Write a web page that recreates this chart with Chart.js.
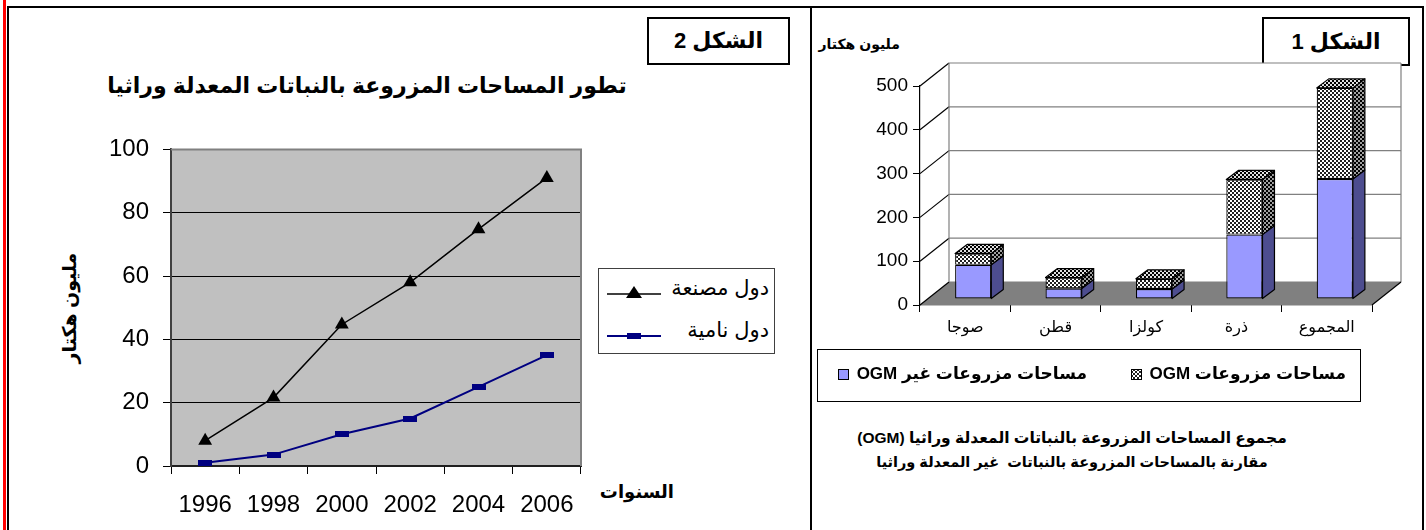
<!DOCTYPE html>
<html><head><meta charset="utf-8">
<script src="https://cdn.jsdelivr.net/npm/chart.js@4.4.0/dist/chart.umd.min.js"></script>
<style>
html,body{margin:0;padding:0;background:#fff;}
body{width:1426px;height:530px;position:relative;overflow:hidden;font-family:'Liberation Sans','DejaVu Sans',sans-serif;color:#000;}
.abs{position:absolute;}
.ar{direction:rtl;white-space:nowrap;}
.fig{position:absolute;box-sizing:border-box;border:2px solid #000;background:#fff;font-weight:bold;font-size:22px;text-align:center;direction:rtl;white-space:nowrap;}
canvas{display:block;}
</style></head><body>
<!-- frame -->
<div class="abs" style="left:3px;top:0;width:3px;height:530px;background:#f00"></div>
<div class="abs" style="left:7px;top:6px;width:2px;height:524px;background:#000"></div>
<div class="abs" style="left:7px;top:6px;width:1417px;height:2px;background:#000"></div>
<div class="abs" style="left:1422px;top:6px;width:2px;height:524px;background:#000"></div>
<div class="abs" style="left:810px;top:6px;width:2px;height:524px;background:#000"></div>

<!-- left panel -->
<div class="fig" style="left:647px;top:17px;width:143px;height:48px;line-height:44px;">الشكل 2</div>
<div class="abs ar" style="left:90px;top:73px;width:554px;text-align:center;font-weight:bold;font-size:22px;">تطور المساحات المزروعة بالنباتات المعدلة وراثيا</div>
<div class="abs ar" style="left:10px;top:296px;width:120px;text-align:center;font-weight:bold;font-size:19px;transform:rotate(-90deg);transform-origin:60px 12px;">مليون هكتار</div>
<div class="abs ar" style="left:590px;top:481px;width:84px;text-align:right;font-weight:bold;font-size:18px;">السنوات</div>
<div class="abs" id="leg2" style="left:598px;top:268px;width:177px;height:86px;box-sizing:border-box;border:1px solid #404040;background:#fff;"></div>
<div class="abs" style="left:10px;top:121px;width:590px;height:400px;"><canvas id="c2" width="590" height="400"></canvas></div>

<!-- right panel -->
<div class="fig" style="left:1262px;top:17px;width:148px;height:49px;line-height:45px;">الشكل 1</div>
<div class="abs ar" style="left:812px;top:36px;width:88px;text-align:right;font-weight:bold;font-size:14px;">مليون هكتار</div>
<div class="abs" style="left:812px;top:40px;width:610px;height:300px;"><canvas id="c1" width="610" height="300"></canvas></div>
<div class="abs" style="left:817px;top:349px;width:544px;height:53px;box-sizing:border-box;border:1px solid #000;background:#fff;"></div>
<div class="abs ar" id="lg1a" style="right:80px;top:363px;font-weight:bold;font-size:17px;"></div>
<div class="abs ar" id="lg1b" style="right:339px;top:363px;font-weight:bold;font-size:17px;"></div>
<div class="abs ar" style="left:810px;top:426px;width:524px;text-align:center;font-weight:bold;line-height:24px;"><span style="font-size:15.5px">مجموع المساحات المزروعة بالنباتات المعدلة وراثيا (OGM)</span><br><span style="font-size:14.5px">مقارنة بالمساحات المزروعة بالنباتات&nbsp; غير المعدلة وراثيا</span></div>

<script>
// ---------- data: figure 2 (line chart) ----------
const years = ['1996','1998','2000','2002','2004','2006'];
const industrialCountries = [8, 21.6, 44.7, 58, 74.8, 91];
const developingCountries = [1, 3.6, 10, 15, 25, 35];
const seriesNames2 = ['دول مصنعة', 'دول نامية'];

// ---------- data: figure 1 (stacked 3D bars) ----------
const crops = ['صوجا','قطن','كولزا','ذرة','المجموع'];
const nonOgmArea = [78, 24, 23, 147, 274];
const ogmArea = [26, 25, 23, 126, 208];
const seriesNames1 = ['مساحات مزروعات OGM', 'مساحات مزروعات غير OGM'];

const NUMFONT = "'Liberation Sans', Arial, sans-serif";
const ARFONT = "'Liberation Sans', 'DejaVu Sans', sans-serif";

// ---------- figure 2 ----------
const sqMark = document.createElement('canvas');
sqMark.width = 14; sqMark.height = 6;
(function(){const c=sqMark.getContext('2d');c.fillStyle='#000080';c.fillRect(0,0,14,6);})();

const plotBg = {
  id:'plotBg',
  beforeDraw(chart){
    const {ctx, chartArea:a} = chart;
    ctx.save(); ctx.fillStyle='#C0C0C0';
    ctx.fillRect(a.left,a.top,a.right-a.left,a.bottom-a.top); ctx.restore();
  },
  afterDraw(chart){
    const {ctx, chartArea:a} = chart;
    ctx.save(); ctx.strokeStyle='#808080'; ctx.lineWidth=2;
    ctx.beginPath(); ctx.moveTo(a.left,a.top); ctx.lineTo(a.right,a.top); ctx.lineTo(a.right,a.bottom); ctx.stroke();
    ctx.restore();
  }
};

new Chart(document.getElementById('c2'), {
  type:'line',
  data:{ labels: years, datasets:[
    {label:seriesNames2[0], data:industrialCountries, borderColor:'#000', backgroundColor:'#000', borderWidth:1.5,
     pointStyle:'triangle', pointRadius:8, pointBorderWidth:0, pointBackgroundColor:'#000', tension:0},
    {label:seriesNames2[1], data:developingCountries, borderColor:'#000080', backgroundColor:'#000080', borderWidth:2,
     pointStyle:sqMark, pointRadius:7, tension:0}
  ]},
  options:{
    responsive:false, animation:false, devicePixelRatio:1,
    layout:{padding:{top:10,right:19,left:0,bottom:0}},
    plugins:{legend:{display:false}, tooltip:{enabled:false}},
    scales:{
      x:{offset:true,
         grid:{offset:true, drawOnChartArea:false, tickLength:8, color:'#000', tickColor:'#000'},
         border:{color:'#202020', width:2},
         ticks:{color:'#000', font:{family:NUMFONT, size:24}, padding:17, maxRotation:0},
         afterFit(s){ s.height = 55; }},
      y:{min:0, max:100,
         grid:{color:(c)=> (c.tick && c.tick.value===100) ? '#808080' : '#000', lineWidth:1, tickLength:8, tickColor:'#000'},
         border:{color:'#404040', width:2},
         ticks:{stepSize:20, color:'#000', font:{family:NUMFONT, size:24}, padding:14},
         afterFit(s){ s.width = 161; }}
    }
  },
  plugins:[plotBg]
});

// left legend (HTML + svg samples)
(function(){
  const lg = document.getElementById('leg2');
  const rows = [
    {name:seriesNames2[0], color:'#000', marker:'<polygon points="27,7 19,19 35,19" fill="#000"/>', w:1.5, y:19},
    {name:seriesNames2[1], color:'#000080', marker:'<rect x="20" y="12" width="14" height="6" fill="#000080"/>', w:2, y:61}
  ];
  rows.forEach(r=>{
    const d = document.createElement('div');
    d.style.cssText = 'position:absolute;left:8px;top:'+(r.y-13)+'px;height:26px;width:162px;';
    d.innerHTML = '<svg width="56" height="26" style="position:absolute;left:0;top:4px"><line x1="0" y1="15" x2="54" y2="15" stroke="'+r.color+'" stroke-width="'+r.w+'"/>'+r.marker+'</svg>'+
      '<span style="position:absolute;right:0;top:0;font-size:21px;line-height:26px;direction:rtl;white-space:nowrap;">'+r.name+'</span>';
    lg.appendChild(d);
  });
})();

// ---------- figure 1 ----------
function makePattern(bg, fg){
  const p = document.createElement('canvas'); p.width=4; p.height=4;
  const c = p.getContext('2d');
  c.fillStyle=bg; c.fillRect(0,0,4,4);
  c.fillStyle=fg;
  c.fillRect(2,0,2,2); c.fillRect(0,2,2,2);
  return p;
}
const ctx1 = document.getElementById('c1').getContext('2d');
const patFront = ctx1.createPattern(makePattern('#ffffff','#202020'),'repeat');
const patSide  = ctx1.createPattern(makePattern('#a0a0a0','#000000'),'repeat');
const patTop   = ctx1.createPattern(makePattern('#e0e0e0','#000000'),'repeat');

const D = {wx:29, wy:23, bx:8, by:6, dx:12, dy:9};
const threeD = {
  id:'threeD',
  beforeDatasetsDraw(chart){
    const {ctx, chartArea:a, scales:{y}} = chart;
    ctx.save();
    ctx.fillStyle='#fff';
    ctx.fillRect(a.left+D.wx, a.top-D.wy, a.right-a.left, a.bottom-a.top);
    ctx.fillStyle='#808080';
    ctx.beginPath(); ctx.moveTo(a.left,a.bottom); ctx.lineTo(a.right,a.bottom);
    ctx.lineTo(a.right+D.wx,a.bottom-D.wy); ctx.lineTo(a.left+D.wx,a.bottom-D.wy); ctx.closePath(); ctx.fill();
    ctx.lineWidth=1.2;
    y.ticks.forEach(t=>{
      const py = y.getPixelForValue(t.value);
      ctx.strokeStyle='#808080';
      ctx.beginPath(); ctx.moveTo(a.left+D.wx, py-D.wy); ctx.lineTo(a.right+D.wx, py-D.wy); ctx.stroke();
      ctx.strokeStyle='#000';
      ctx.beginPath(); ctx.moveTo(a.left, py); ctx.lineTo(a.left+D.wx, py-D.wy); ctx.stroke();
    });
    ctx.strokeStyle='#808080';
    ctx.beginPath();
    ctx.moveTo(a.left+D.wx, a.top-D.wy); ctx.lineTo(a.left+D.wx, a.bottom-D.wy);
    ctx.moveTo(a.right+D.wx, a.top-D.wy); ctx.lineTo(a.right+D.wx, a.bottom-D.wy);
    ctx.stroke();
    ctx.strokeStyle='#000';
    ctx.beginPath(); ctx.moveTo(a.right, a.bottom); ctx.lineTo(a.right+D.wx, a.bottom-D.wy); ctx.stroke();
    ctx.restore();
    ctx.save();
    ctx.translate(D.bx, -D.by);
  },
  afterDatasetsDraw(chart){
    const ctx = chart.ctx;
    const n = chart.data.datasets.length;
    chart.data.datasets.forEach((ds, di)=>{
      const meta = chart.getDatasetMeta(di);
      meta.data.forEach(el=>{
        const {x,y,base,width} = el.getProps(['x','y','base','width'], true);
        const l=x-width/2, r=x+width/2, t=Math.min(y,base), b=Math.max(y,base);
        ctx.lineWidth=1.2; ctx.strokeStyle='#000'; ctx.lineJoin='round';
        ctx.fillStyle = ds.sideColor;
        ctx.beginPath(); ctx.moveTo(r,t); ctx.lineTo(r+D.dx,t-D.dy); ctx.lineTo(r+D.dx,b-D.dy); ctx.lineTo(r,b); ctx.closePath();
        ctx.fill(); ctx.stroke();
        if (di===n-1){
          ctx.fillStyle = ds.topColor;
          ctx.beginPath(); ctx.moveTo(l,t); ctx.lineTo(l+D.dx,t-D.dy); ctx.lineTo(r+D.dx,t-D.dy); ctx.lineTo(r,t); ctx.closePath();
          ctx.fill(); ctx.stroke();
        }
      });
    });
    ctx.restore();
  }
};

new Chart(ctx1, {
  type:'bar',
  data:{ labels: crops, datasets:[
    {label:seriesNames1[1], data:nonOgmArea, backgroundColor:'#9999FF', borderColor:'#000', borderWidth:1.2,
     sideColor:'#4D4D8F', topColor:'#7777CC', clip:false, borderSkipped:false},
    {label:seriesNames1[0], data:ogmArea, backgroundColor:patFront, borderColor:'#000', borderWidth:1.2,
     sideColor:patSide, topColor:patTop, clip:false, borderSkipped:false}
  ]},
  options:{
    responsive:false, animation:false, devicePixelRatio:1,
    layout:{padding:{top:46,right:50,left:0,bottom:0}},
    plugins:{legend:{display:false}, tooltip:{enabled:false}},
    datasets:{bar:{barPercentage:0.4, categoryPercentage:1}},
    scales:{
      x:{stacked:true,
         grid:{offset:true, drawOnChartArea:false, tickLength:7, color:'#000'},
         border:{color:'#000', width:1.2},
         ticks:{color:'#000', font:{family:ARFONT, size:16}, padding:6},
         afterFit(s){ s.height = 35; }},
      y:{stacked:true, min:0, max:500,
         grid:{drawOnChartArea:false, tickLength:7, color:'#000'},
         border:{color:'#000', width:1.2},
         ticks:{stepSize:100, color:'#000', font:{family:NUMFONT, size:19}, padding:5},
         afterFit(s){ s.width = 108; }}
    }
  },
  plugins:[threeD]
});

// right legend
(function(){
  function sw(fill){
    const c=document.createElement('canvas'); c.width=11; c.height=11;
    c.style.cssText='display:inline-block;vertical-align:-1px;margin-right:3px;';
    const g=c.getContext('2d'); g.fillStyle=fill; g.fillRect(0,0,11,11);
    g.strokeStyle='#000'; g.lineWidth=1; g.strokeRect(0.5,0.5,10,10);
    return c;
  }
  const a=document.getElementById('lg1a');
  a.appendChild(document.createTextNode(seriesNames1[0]+' '));
  a.appendChild(sw(ctx1.createPattern(makePattern('#ffffff','#202020'),'repeat')));
  const b=document.getElementById('lg1b');
  b.appendChild(document.createTextNode(seriesNames1[1]+' '));
  b.appendChild(sw('#9999FF'));
})();
</script>
</body></html>
